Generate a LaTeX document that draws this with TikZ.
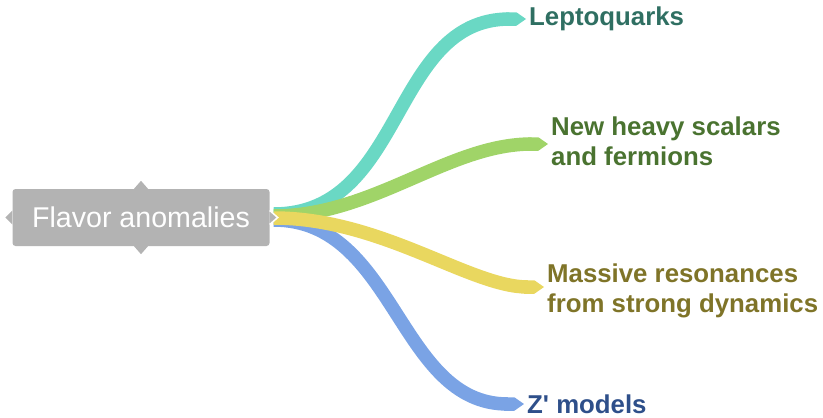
\documentclass[tikz,border=0pt]{standalone}
\usepackage{fontspec}
\setmainfont{Liberation Sans}
\usetikzlibrary{arrows.meta}
\definecolor{boxgray}{HTML}{B3B3B3}
\definecolor{tealB}{HTML}{6AD8C4}
\definecolor{greenB}{HTML}{A0D468}
\definecolor{yellowB}{HTML}{E9D75F}
\definecolor{blueB}{HTML}{7AA3E5}
\definecolor{tealT}{HTML}{2F6F62}
\definecolor{greenT}{HTML}{4A7330}
\definecolor{yellowT}{HTML}{7F7428}
\definecolor{blueT}{HTML}{2E4F8A}
\tikzset{
  branch/.style={line width=13.5pt, -{Triangle Cap[cap angle=70]}},
  lab/.style={inner xsep=3pt, inner ysep=0pt, anchor=west, align=left,
    font=\fontsize{25.8}{30}\selectfont\bfseries},
  notch/.style={fill=boxgray}
}
\begin{document}
\begin{tikzpicture}[x=1pt,y=-1pt]
\useasboundingbox (0,0) rectangle (823,418);
% central node
\node[fill=boxgray, rounded corners=3pt, minimum width=257pt, minimum height=57pt,
  text=white, inner sep=0pt, font=\fontsize{28.6}{34}\selectfont] (fa) at (141,217.5) {Flavor anomalies};
\fill[notch] ([xshift=-7pt]fa.north) -- ([yshift=8pt]fa.north) -- ([xshift=7pt]fa.north) -- cycle;
\fill[notch] ([xshift=-7pt]fa.south) -- ([yshift=-8pt]fa.south) -- ([xshift=7pt]fa.south) -- cycle;
\fill[notch] ([yshift=7pt]fa.west) -- ([xshift=-7pt]fa.west) -- ([yshift=-7pt]fa.west) -- cycle;
\coordinate (hub) at ([xshift=4pt]fa.east);
% labels
\node[lab, text=tealT] (lep) at (526,19) {Leptoquarks};
\node[lab, text=greenT] (heavy) at (548,141) {New heavy scalars\\and fermions};
\node[lab, text=yellowT] (mass) at (544,291) {Massive resonances\\from strong dynamics};
\node[lab, text=blueT] (zp) at (524,404) {Z\textquotesingle{} models};
% branches
\draw[branch, blueB] ([yshift=-2.5pt]hub) .. controls +(122,0) and +(-126,0) .. (zp.west);
\draw[branch, tealB] ([yshift=3.5pt]hub) .. controls +(132,0) and +(-136,0) .. (lep.west);
\draw[branch, greenB] ([yshift=1.5pt]hub) .. controls +(100,0) and +(-100,0) .. ([yshift=-3pt]heavy.west);
\draw[branch, yellowB] ([yshift=-0.5pt]hub) .. controls +(108,0) and +(-74,0) .. ([yshift=4pt]mass.west);
% right notch over the branches
\filldraw[fill=boxgray, draw=white, line width=1.5pt, line join=miter]
  ([yshift=7pt]fa.east) -- ([xshift=8pt]fa.east) -- ([yshift=-7pt]fa.east);
\end{tikzpicture}
\end{document}
